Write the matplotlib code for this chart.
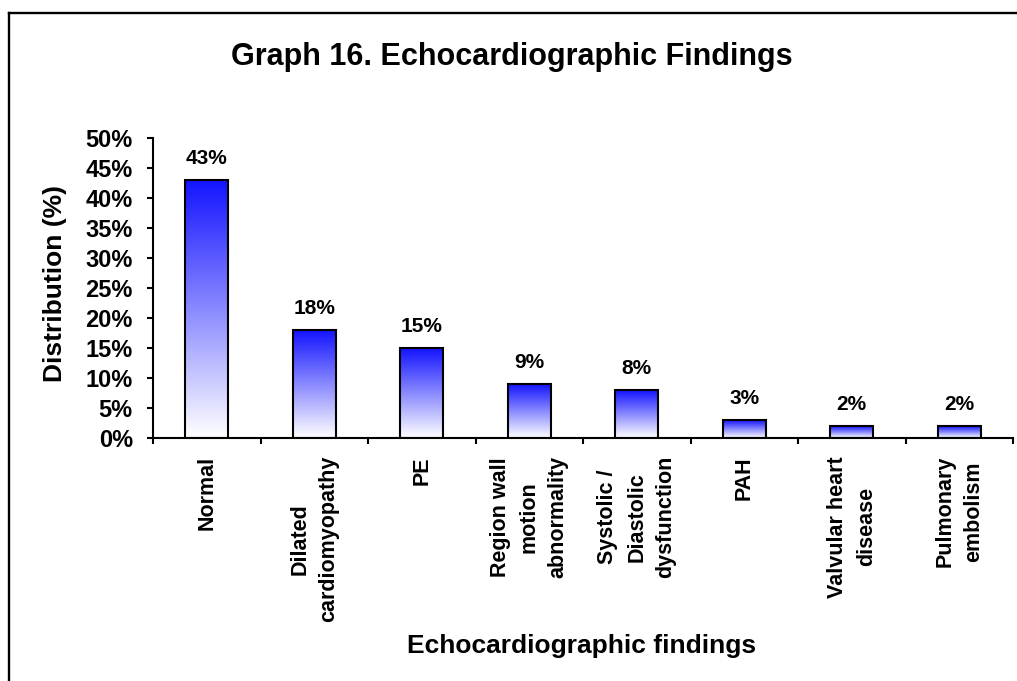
import numpy as np
import matplotlib
matplotlib.use('Agg')
import matplotlib.pyplot as plt
from matplotlib.colors import LinearSegmentedColormap
from matplotlib.lines import Line2D

plt.rcParams['font.family'] = ['Liberation Sans', 'DejaVu Sans']
plt.rcParams['font.weight'] = 'bold'

categories = ['Normal', 'Dilated\ncardiomyopathy', 'PE',
              'Region wall\nmotion\nabnormality',
              'Systolic /\nDiastolic\ndysfunction', 'PAH',
              'Valvular heart\ndisease', 'Pulmonary\nembolism']
values = [43, 18, 15, 9, 8, 3, 2, 2]
yticks = np.arange(0, 55, 5)

W, H = 1017, 681
fig = plt.figure(figsize=(W/100, H/100), dpi=100)
ax = fig.add_axes([153/W, 1-438/H, 860/W, 300/H])

# white-to-blue fill, blue at the top of each bar
cmap = LinearSegmentedColormap.from_list('bluefade', ['#ffffff', '#1414ff'])
grad = np.linspace(0, 1, 256).reshape(-1, 1)
bw = 0.4
x = np.arange(len(categories))
for xi, v in zip(x, values):
    ax.imshow(grad, cmap=cmap, origin='lower', aspect='auto',
              extent=[xi-bw/2, xi+bw/2, 0, v], zorder=2, interpolation='bilinear')
ax.bar(x, values, width=bw, fill=False, edgecolor='black', linewidth=1.5, zorder=3)

for xi, v in zip(x, values):
    ax.annotate(f'{v}%', (xi, v), xytext=(0, 11.5), textcoords='offset points',
                ha='center', va='baseline', fontsize=15, fontweight='bold')

ax.set_xlim(-0.5, 7.5)
ax.set_ylim(0, 50)
ax.set_aspect('auto')

ax.set_yticks(yticks)
ax.set_yticklabels([f'{t}%' for t in yticks], fontsize=17, fontweight='bold')
ax.tick_params(axis='y', direction='out', length=4.5, width=1.5, pad=10)

# boundary ticks on the x axis, category names on minor ticks
ax.set_xticks(np.arange(-0.5, 8, 1))
ax.set_xticklabels([])
ax.tick_params(axis='x', which='major', direction='out', length=4.5, width=1.5)
ax.set_xticks(x, minor=True)
ax.set_xticklabels(categories, minor=True, rotation=90, fontsize=15.5,
                   fontweight='bold', ha='center', va='top',
                   multialignment='center', linespacing=1.5)
ax.tick_params(axis='x', which='minor', length=0, pad=13)

for side in ('top', 'right'):
    ax.spines[side].set_visible(False)
for side in ('left', 'bottom'):
    ax.spines[side].set_linewidth(1.5)

fig.text(512/W, 1-65/H, 'Graph 16. Echocardiographic Findings',
         ha='center', va='baseline', fontsize=22, fontweight='bold')
fig.text(55/W, 1-284/H, 'Distribution (%)', rotation=90,
         ha='center', va='center', fontsize=19, fontweight='bold')
fig.text(582/W, 1-653/H, 'Echocardiographic findings',
         ha='center', va='baseline', fontsize=19, fontweight='bold')

# frame lines on the left and top edges
fig.add_artist(Line2D([8.7/W, 8.7/W], [0, 1-13.3/H], color='black', lw=1.7))
fig.add_artist(Line2D([8.7/W, 1], [1-13.3/H, 1-13.3/H], color='black', lw=1.7))

fig.savefig('out.png', dpi=100)
